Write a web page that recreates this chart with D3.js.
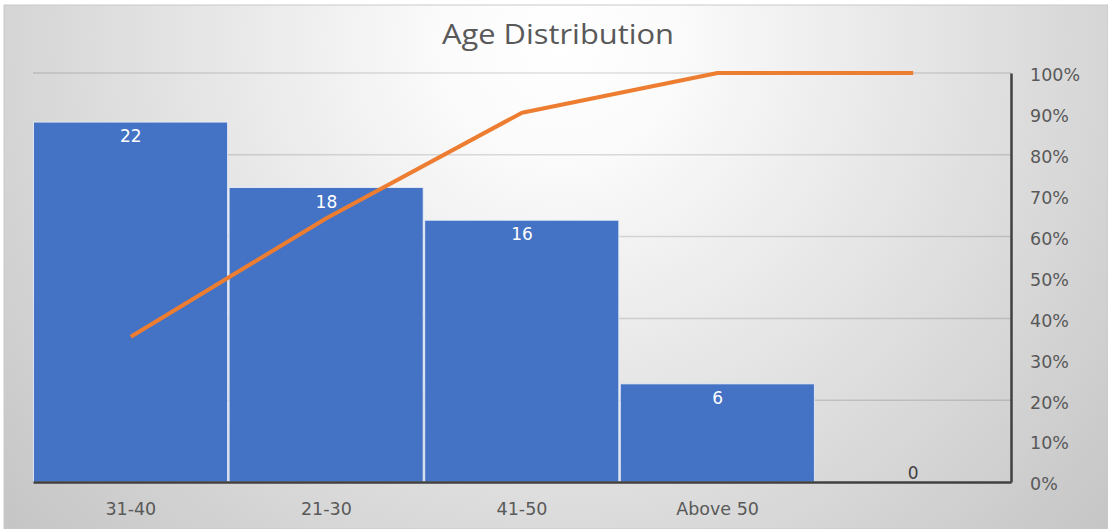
<!DOCTYPE html>
<html>
<head>
<meta charset="utf-8">
<script src="https://cdn.jsdelivr.net/npm/d3@7"></script>
<style>
  html, body { margin: 0; padding: 0; background: #ffffff; }
  svg { display: block; }
</style>
</head>
<body>
<svg id="chart" width="1108" height="529"></svg>
<script>
// ---- data ----
const categories = ["31-40", "21-30", "41-50", "Above 50", ""];
const counts = [22, 18, 16, 6, 0];
const cumulativeShare = [0.355, 0.645, 0.903, 1.0, 1.0];
const percentTicks = [0, 0.1, 0.2, 0.3, 0.4, 0.5, 0.6, 0.7, 0.8, 0.9, 1.0];
const gridTicks = [0.2, 0.4, 0.6, 0.8, 1.0];
const chartTitle = "Age Distribution";

(function () {
const svg = d3.select("#chart");
const W = 1108, H = 529;

// background with radial gradient
const defs = svg.append("defs");
const grad = defs.append("radialGradient")
  .attr("id", "bg").attr("gradientUnits", "userSpaceOnUse")
  .attr("cx", 560).attr("cy", 40).attr("r", 760);
grad.append("stop").attr("offset", 0).attr("stop-color", "#ffffff");
grad.append("stop").attr("offset", 0.15).attr("stop-color", "#fbfbfb");
grad.append("stop").attr("offset", 1).attr("stop-color", "#c3c3c3");

svg.append("rect").attr("x", 4).attr("y", 5).attr("width", W - 4).attr("height", H - 5)
  .attr("fill", "url(#bg)").attr("stroke", "#c9c9c9").attr("stroke-width", 1);

const pLeft = 33, pRight = 1011, pTop = 73, pBottom = 482;

const x = d3.scaleBand().domain(categories).range([pLeft, pRight]).padding(0);
const yCount = d3.scaleLinear().domain([0, 25]).range([pBottom, pTop]);
const yPct = d3.scaleLinear().domain([0, 1]).range([pBottom, pTop]);

// gridlines
svg.append("g").selectAll("line").data(gridTicks).join("line")
  .attr("x1", pLeft).attr("x2", pRight)
  .attr("y1", d => yPct(d)).attr("y2", d => yPct(d))
  .attr("stroke", "rgba(0,0,0,0.13)").attr("stroke-width", 1.5);

// bars
svg.append("g").selectAll("rect").data(counts).join("rect")
  .attr("x", (d, i) => x(categories[i]) + 0.5)
  .attr("width", x.bandwidth() - 1.5)
  .attr("y", d => yCount(d))
  .attr("height", d => pBottom - yCount(d))
  .attr("fill", "#4472C4")
  .attr("stroke", "rgba(235,240,250,0.85)")
  .attr("stroke-width", 1);

// bar labels
svg.append("g").selectAll("text").data(counts).join("text")
  .attr("x", (d, i) => x(categories[i]) + x.bandwidth() / 2)
  .attr("y", d => d > 0 ? yCount(d) + 20 : yCount(d) - 3)
  .attr("text-anchor", "middle")
  .attr("font-family", "DejaVu Sans, Verdana, sans-serif")
  .attr("font-size", 17)
  .attr("fill", d => d > 0 ? "#ffffff" : "#404040")
  .text(d => d);

// cumulative line
const line = d3.line()
  .x((d, i) => x(categories[i]) + x.bandwidth() / 2)
  .y(d => yPct(d));
svg.append("path").datum(cumulativeShare)
  .attr("d", line)
  .attr("fill", "none")
  .attr("stroke", "#ED7D31")
  .attr("stroke-width", 4)
  .attr("stroke-linejoin", "round");

// bottom axis
const xAxis = svg.append("g").attr("transform", `translate(0,${pBottom})`)
  .call(d3.axisBottom(x).tickSize(0).tickPadding(21));
xAxis.select(".domain").attr("stroke", "#404040").attr("stroke-width", 2.5);
xAxis.selectAll("text")
  .attr("font-family", "DejaVu Sans, Verdana, sans-serif")
  .attr("font-size", 17.5).attr("fill", "#595959");

// right axis
const yAxis = svg.append("g").attr("transform", `translate(${pRight},0)`)
  .call(d3.axisRight(yPct).tickValues(percentTicks).tickFormat(d3.format(".0%")).tickSize(0).tickPadding(19));
yAxis.select(".domain").attr("stroke", "#404040").attr("stroke-width", 2.5);
yAxis.selectAll("text")
  .attr("font-family", "DejaVu Sans, Verdana, sans-serif")
  .attr("font-size", 17.5).attr("fill", "#595959")
  .attr("dy", "0.45em");

// title
svg.append("text")
  .attr("x", 558).attr("y", 44)
  .attr("text-anchor", "middle")
  .attr("font-family", "Open Sans, sans-serif")
  .attr("font-size", 27)
  .attr("textLength", 232)
  .attr("lengthAdjust", "spacingAndGlyphs")
  .attr("fill", "#595959")
  .text(chartTitle);
})();
</script>
</body>
</html>
